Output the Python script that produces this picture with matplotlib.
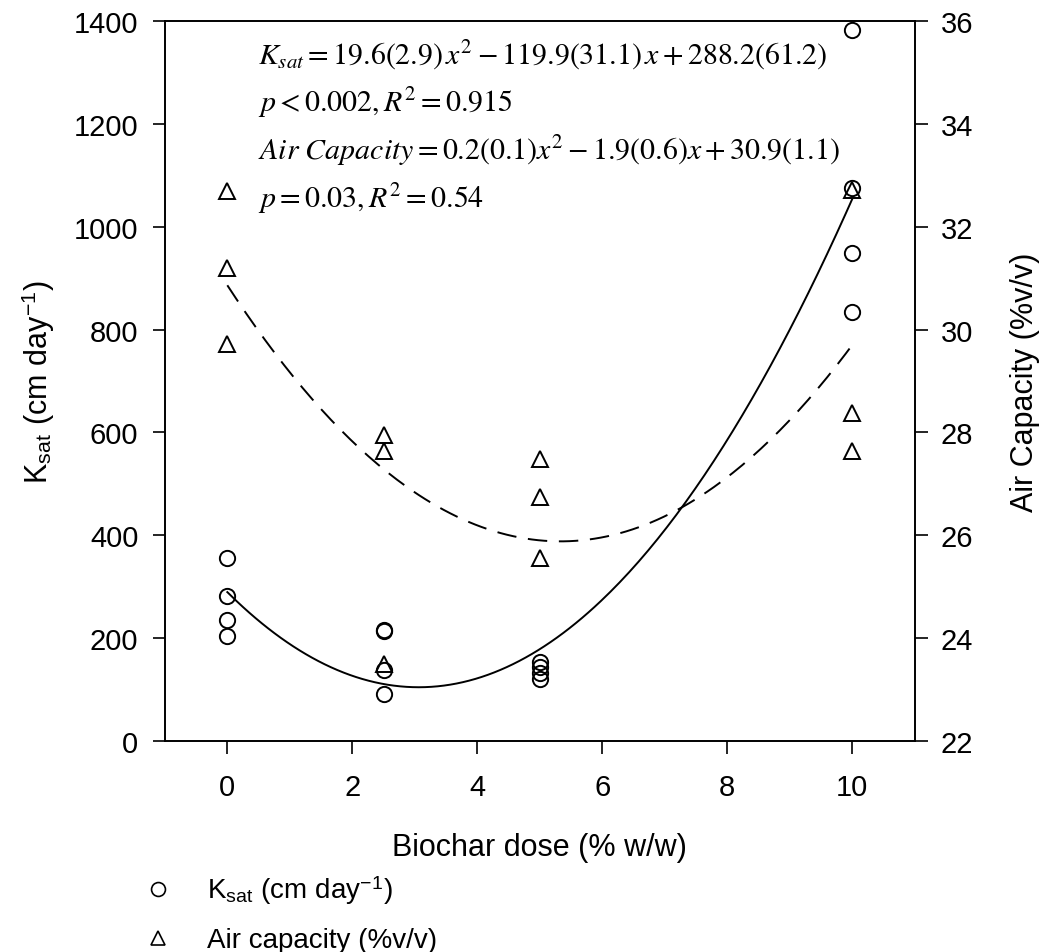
import matplotlib.pyplot as plt
from matplotlib.lines import Line2D
import numpy as np

plt.rcParams['font.family'] = ['Liberation Sans', 'DejaVu Sans']
plt.rcParams['mathtext.fontset'] = 'stix'

# Ksat (cm day-1) by biochar dose
ksat_dose = [0, 0, 0, 0, 2.5, 2.5, 2.5, 2.5, 5, 5, 5, 5, 10, 10, 10, 10]
ksat_vals = [356, 281, 235, 205, 216, 213, 138, 92, 154, 144, 133, 121, 1382, 1075, 948, 834]

# Air capacity (%v/v) by biochar dose
air_dose = [0, 0, 0, 2.5, 2.5, 2.5, 5, 5, 5, 10, 10, 10]
air_vals = [32.7, 31.2, 29.72, 27.95, 27.64, 23.5, 27.48, 26.74, 25.56, 32.72, 28.38, 27.64]

eq_lines = [
    r'$K_{sat} = 19.6(2.9)\,x^2 - 119.9(31.1)\,x + 288.2(61.2)$',
    r'$p < 0.002, R^2 = 0.915$',
    r'$Air\ Capacity = 0.2(0.1)x^2 - 1.9(0.6)x + 30.9(1.1)$',
    r'$p = 0.03, R^2 = 0.54$',
]

fig = plt.figure(figsize=(10.5, 9.53), dpi=100)
ax = fig.add_axes([0.157, 0.2214, 0.714, 0.7556])
ax2 = ax.twinx()

# quadratic fits
xs = np.linspace(0, 10, 200)
k_fit = np.polyfit(ksat_dose, ksat_vals, 2)
a_fit = np.polyfit(air_dose, air_vals, 2)

ax.plot(xs, np.polyval(k_fit, xs), color='black', lw=1.4)
ax.plot(ksat_dose, ksat_vals, 'o', mfc='none', mec='black', ms=11, mew=1.4)

ax2.plot(xs, np.polyval(a_fit, xs), color='black', lw=1.4, dashes=(10, 6))
ax2.plot(air_dose, air_vals, '^', mfc='none', mec='black', ms=12, mew=1.4)

ax.set_xlim(-1, 11)
ax.set_ylim(0, 1400)
ax2.set_ylim(22, 36)
ax.set_xticks([0, 2, 4, 6, 8, 10])
ax.set_yticks(range(0, 1401, 200))
ax2.set_yticks(range(22, 37, 2))

for a in (ax, ax2):
    a.tick_params(direction='out', length=9, width=1.2, labelsize=21, pad=10)
    for s in a.spines.values():
        s.set_linewidth(1.2)
ax.tick_params(axis='x', pad=14)

ax.set_xlabel('Biochar dose (% w/w)', fontsize=22, labelpad=22)
ax.set_ylabel(r'K$_{\mathregular{sat}}$ (cm day$^{\mathregular{-1}}$)', fontsize=22, labelpad=12)
ax2.set_ylabel('Air Capacity (%v/v)', fontsize=22, labelpad=26)

for i, t in enumerate(eq_lines):
    ax.text(0.124, 0.953 - i * 0.066, t, transform=ax.transAxes, fontsize=21.5,
            va='center', ha='left')

handles = [
    Line2D([], [], ls='none', marker='o', mfc='none', mec='black', ms=10, mew=1.2),
    Line2D([], [], ls='none', marker='^', mfc='none', mec='black', ms=10, mew=1.2),
]
labels = [r'K$_{\mathregular{sat}}$ (cm day$^{\mathregular{-1}}$)', 'Air capacity (%v/v)']
fig.legend(handles, labels, loc='upper left', bbox_to_anchor=(0.12, 0.094),
           frameon=False, fontsize=20, handletextpad=1.0, labelspacing=0.75,
           handlelength=1.5, borderaxespad=0)

fig.savefig('out.png', dpi=100)
